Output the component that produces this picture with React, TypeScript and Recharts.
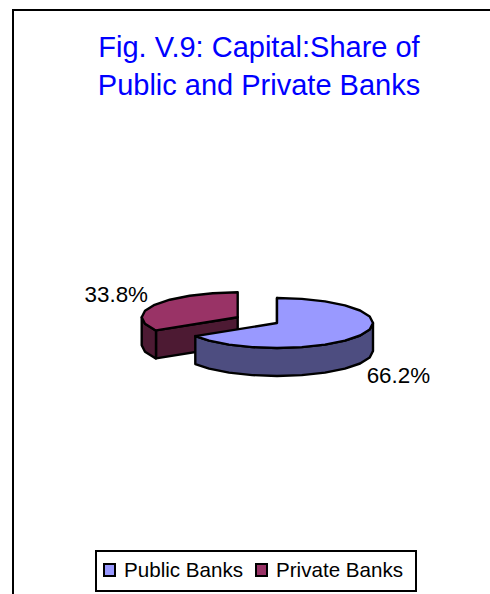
import React from "react";
import { PieChart, Pie, Cell, Legend } from "recharts";

// Drawn back to front: the exploded private slice sits behind the public one.
const drawOrder = ["Private Banks", "Public Banks"];
const legendOrder = ["Public Banks", "Private Banks"];
const shares = [33.8, 66.2];
const titleLines = ["Fig. V.9: Capital:Share of", "Public and Private Banks"];

const topColors = ["#993366", "#9999FF"];
const sideColors = ["#4D1A33", "#4D4D80"];
const explode = [45, 0];

const SQUASH = 0.26;
const DEPTH = 28;
const FONT = "'Liberation Sans', Arial, sans-serif";
const STEP = 15;

const rad = (d: number) => (d * Math.PI) / 180;

const tableRows = drawOrder.map((name, i) => ({ name, value: shares[i], index: i }));

// Offset of a slice's apex when it is pulled out along its middle angle.
function apex(cx: number, cy: number, mid: number, amount: number) {
  return {
    x: cx + amount * Math.cos(rad(mid)),
    y: cy - amount * Math.sin(rad(mid)) * SQUASH,
  };
}

function Slice(props: any) {
  const { cx, cy, outerRadius: r, startAngle, endAngle, midAngle, index } = props;
  const c = apex(cx, cy, midAngle, explode[index]);
  const at = (a: number) => ({
    x: c.x + r * Math.cos(rad(a)),
    y: c.y - r * Math.sin(rad(a)) * SQUASH,
  });

  // Coarse angular sampling, walking clockwise from start to end.
  const angles: number[] = [startAngle];
  for (let a = Math.floor(startAngle / STEP) * STEP; a > endAngle; a -= STEP) {
    if (a < startAngle) angles.push(a);
  }
  angles.push(endAngle);

  const rim = angles.map(at);
  const front = angles.filter((a) => Math.sin(rad(a)) <= 1e-9).map(at);
  const stroke = { stroke: "#000", strokeWidth: 2.4, strokeLinejoin: "round" as const };
  const toPath = (pts: { x: number; y: number }[]) =>
    "M" + pts.map((p) => `${p.x.toFixed(1)},${p.y.toFixed(1)}`).join("L") + "Z";
  const drop = (pts: { x: number; y: number }[]) =>
    pts.map((p) => ({ x: p.x, y: p.y + DEPTH })).reverse();

  const faces: string[] = [];
  if (Math.cos(rad(startAngle)) < -1e-6) {
    const e = at(startAngle);
    faces.push(toPath([c, e, { x: e.x, y: e.y + DEPTH }, { x: c.x, y: c.y + DEPTH }]));
  }
  if (Math.cos(rad(endAngle)) > 1e-6) {
    const e = at(endAngle);
    faces.push(toPath([c, e, { x: e.x, y: e.y + DEPTH }, { x: c.x, y: c.y + DEPTH }]));
  }

  return (
    <g>
      {faces.map((d, i) => (
        <path key={i} d={d} fill={sideColors[index]} {...stroke} />
      ))}
      {front.length > 1 && (
        <path d={toPath([...front, ...drop(front)])} fill={sideColors[index]} {...stroke} />
      )}
      <path d={toPath([c, ...rim])} fill={topColors[index]} {...stroke} />
    </g>
  );
}

function SliceLabel(props: any) {
  const { cx, cy, midAngle, index, value } = props;
  const c = apex(cx, cy, midAngle, explode[index]);
  const reach = 139;
  const lower = Math.sin(rad(midAngle)) < 0;
  const x = c.x + reach * Math.cos(rad(midAngle));
  const y = c.y - reach * Math.sin(rad(midAngle)) * SQUASH + (lower ? DEPTH + 7 : -5);
  return (
    <text x={x} y={y} textAnchor="middle" dominantBaseline="central" fontFamily={FONT} fontSize={22.4} fill="#000">
      {`${Number(value).toFixed(1)}%`}
    </text>
  );
}

function LegendBox() {
  return (
    <div
      style={{
        position: "absolute",
        left: 95,
        top: 550,
        width: 322,
        height: 42,
        boxSizing: "border-box",
        border: "2px solid #000",
        fontFamily: FONT,
        fontSize: 20.6,
        color: "#000",
      }}
    >
      {legendOrder.map((name, i) => (
        <React.Fragment key={name}>
          <span
            style={{
              position: "absolute",
              left: i === 0 ? 6 : 158,
              top: 11,
              width: 13,
              height: 14,
              boxSizing: "border-box",
              border: "2px solid #000",
              background: topColors[drawOrder.indexOf(name)],
            }}
          />
          <span style={{ position: "absolute", left: i === 0 ? 27 : 179, top: 6, whiteSpace: "nowrap", lineHeight: "24px" }}>
            {name}
          </span>
        </React.Fragment>
      ))}
    </div>
  );
}

export default function App() {
  return (
    <div style={{ position: "absolute", left: 0, top: 0, width: 490, height: 594, overflow: "hidden", background: "#fff" }}>
      <div
        style={{
          position: "absolute",
          left: 12,
          top: 9,
          width: 478,
          height: 585,
          boxSizing: "border-box",
          borderTop: "2px solid #000",
          borderLeft: "2px solid #000",
        }}
      />
      {titleLines.map((line, i) => (
        <div
          key={line}
          style={{
            position: "absolute",
            left: 0,
            width: 518,
            top: 29 + i * 37.5,
            textAlign: "center",
            fontFamily: FONT,
            fontSize: 29,
            lineHeight: "37px",
            color: "#0000FF",
            whiteSpace: "nowrap",
          }}
        >
          {line}
        </div>
      ))}
      <PieChart width={490} height={594} margin={{ top: 0, right: 0, bottom: 0, left: 0 }} style={{ position: "absolute", left: 0, top: 0 }}>
        <Pie
          data={tableRows}
          dataKey="value"
          nameKey="name"
          cx={277}
          cy={323}
          outerRadius={96}
          startAngle={-148.3}
          endAngle={-508.3}
          stroke="none"
          isAnimationActive={false}
          shape={Slice}
          label={SliceLabel}
          labelLine={false}
        >
          {tableRows.map((row, i) => (
            <Cell key={row.name} fill={topColors[i]} />
          ))}
        </Pie>
        <Legend content={() => null} />
      </PieChart>
      <LegendBox />
    </div>
  );
}
